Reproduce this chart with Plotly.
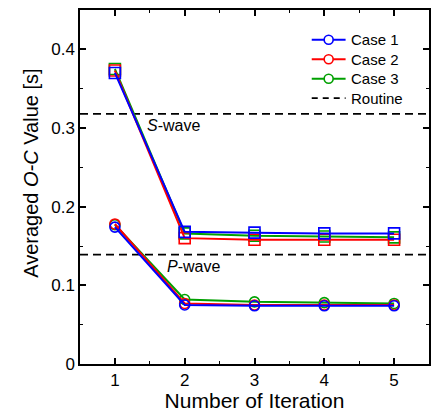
import plotly.graph_objects as go

iterations = [1, 2, 3, 4, 5]
cases = ["Case 1", "Case 2", "Case 3"]
colors = ["#0000ff", "#ff0000", "#00a000"]

s_case1 = [0.370, 0.168, 0.167, 0.166, 0.166]
s_case2 = [0.373, 0.160, 0.158, 0.158, 0.158]
s_case3 = [0.375, 0.166, 0.163, 0.162, 0.161]

p_case1 = [0.174, 0.075, 0.074, 0.074, 0.074]
p_case2 = [0.178, 0.077, 0.075, 0.075, 0.075]
p_case3 = [0.177, 0.082, 0.079, 0.078, 0.077]

routine_s = 0.318
routine_p = 0.139

x_range = [0.5, 5.5]
y_range = [0, 0.45]
y_ticks = [0, 0.1, 0.2, 0.3, 0.4]
y_ticklabels = ["0", "0.1", "0.2", "0.3", "0.4"]

FONT = "Arial, Liberation Sans, Helvetica, sans-serif"

s_series = [s_case1, s_case2, s_case3]
p_series = [p_case1, p_case2, p_case3]

fig = go.Figure()

# Routine lines
for val in [routine_s, routine_p]:
    fig.add_trace(go.Scatter(x=x_range, y=[val, val], mode="lines",
                             line=dict(color="black", width=1.6, dash="8px,5px"),
                             name="Routine", showlegend=False))

# draw order: Case 3, Case 2, Case 1 (blue on top)
for i in [2, 1, 0]:
    fig.add_trace(go.Scatter(x=iterations, y=s_series[i], mode="lines+markers",
                             line=dict(color=colors[i], width=2),
                             marker=dict(symbol="square-open", size=11, color=colors[i],
                                         line=dict(width=1.6, color=colors[i])),
                             name=cases[i], showlegend=False))
    fig.add_trace(go.Scatter(x=iterations, y=p_series[i], mode="lines+markers",
                             line=dict(color=colors[i], width=2),
                             marker=dict(symbol="circle-open", size=10, color=colors[i],
                                         line=dict(width=1.6, color=colors[i])),
                             name=cases[i], showlegend=False))

fig.add_annotation(x=1.84, y=0.303, xref="x", yref="y", text="<i>S</i>-wave",
                   showarrow=False, font=dict(size=16, color="black", family=FONT))
fig.add_annotation(x=2.13, y=0.124, xref="x", yref="y", text="<i>P</i>-wave",
                   showarrow=False, font=dict(size=16, color="black", family=FONT))

# y-axis title as annotation
fig.add_annotation(x=-0.1425, y=0.538, xref="paper", yref="paper",
                   text="Averaged <i>O-C</i> Value [s]", textangle=-90,
                   showarrow=False, xanchor="center", yanchor="middle",
                   font=dict(size=20, color="black", family=FONT))

# manual legend (compact spacing like the reference)
legend_labels = cases + ["Routine"]
legend_colors = colors + ["black"]
legend_y = [0.916, 0.861, 0.806, 0.751]
lx0, lx1, lxm, ltx = 0.664, 0.761, 0.7125, 0.775
for lab, col, yy in zip(legend_labels, legend_colors, legend_y):
    is_routine = (lab == "Routine")
    fig.add_shape(type="line", xref="paper", yref="paper", x0=lx0, x1=lx1, y0=yy, y1=yy,
                  line=dict(color=col, width=1.6 if is_routine else 2,
                            dash="6px,5px" if is_routine else "solid"))
    if not is_routine:
        fig.add_shape(type="circle", xref="paper", yref="paper",
                      xsizemode="pixel", ysizemode="pixel",
                      xanchor=lxm, yanchor=yy, x0=-4.5, x1=4.5, y0=-4.5, y1=4.5,
                      line=dict(color=col, width=1.6), fillcolor="white")
    fig.add_annotation(x=ltx, y=yy, xref="paper", yref="paper", text=lab,
                       showarrow=False, xanchor="left", yanchor="middle", borderpad=0,
                       font=dict(size=15, color="black", family=FONT))

axis_common = dict(showline=True, linecolor="black", linewidth=1.5,
                   mirror="ticks", ticks="inside", ticklen=6, tickwidth=1.5,
                   tickcolor="black", showgrid=False, zeroline=False,
                   tickfont=dict(size=17, color="black", family=FONT))

fig.update_xaxes(range=x_range, tickvals=iterations, **axis_common,
                 minor=dict(ticks="inside", ticklen=3, tickwidth=1.2, dtick=0.5,
                            tick0=0.5, tickcolor="black", showgrid=False),
                 title=dict(text="Number of Iteration", standoff=3,
                            font=dict(size=21, color="black", family=FONT)))
fig.update_yaxes(range=y_range, tickvals=y_ticks, ticktext=y_ticklabels, **axis_common,
                 minor=dict(ticks="inside", ticklen=3, tickwidth=1.2, dtick=0.05,
                            tick0=0, tickcolor="black", showgrid=False))

fig.update_layout(
    width=432, height=412,
    margin=dict(l=80, r=1, t=10, b=48),
    plot_bgcolor="white", paper_bgcolor="white",
    font=dict(family=FONT, color="black"),
    showlegend=False,
)

fig.write_html("out.html")
